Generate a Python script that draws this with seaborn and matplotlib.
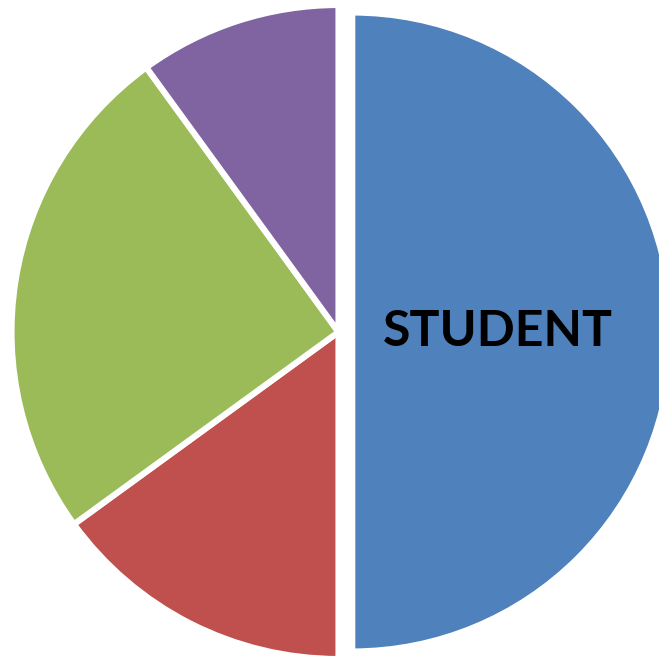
import matplotlib
matplotlib.use("Agg")
import matplotlib.pyplot as plt
import seaborn as sns

# slice data, clockwise from 12 o'clock
categories = ["STUDENT", "B", "C", "D"]
shares = [50, 15, 25, 10]
colors = ["#4F81BD", "#C0504D", "#9BBB59", "#8064A2"]
explode = [0.042, 0, 0, 0]

sns.set_theme(style="white")
palette = sns.color_palette(colors)

fig = plt.figure(figsize=(6.59, 6.57), dpi=100)
ax = fig.add_axes([0, 0, 1, 1])

labels = [categories[0], "", "", ""]
wedges, texts = ax.pie(shares, colors=palette, explode=explode, startangle=90,
                       counterclock=False, labels=labels, labeldistance=0.445,
                       wedgeprops=dict(edgecolor="white", linewidth=4.4))

# the exploded slice is drawn slightly smaller in the reference
wedges[0].set_radius(0.977)

for t in texts:
    t.set_ha("center")
    t.set_va("center")
    t.set_fontfamily(["Lato", "DejaVu Sans"])
    t.set_fontweight("bold")
    t.set_fontsize(36)
    t.set_color("black")

scale = 327.0
ax.set_xlim(-338.5 / scale, (659 - 338.5) / scale)
ax.set_ylim((332 - 657) / scale, 332 / scale)
ax.set_aspect("auto")
ax.axis("off")

fig.savefig("out.png", dpi=100)
